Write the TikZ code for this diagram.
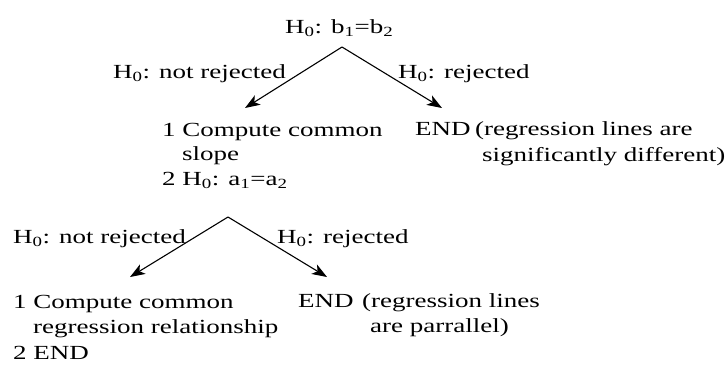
\documentclass[tikz,border=0pt]{standalone}
\usepackage{fontspec}
\setmainfont{Liberation Serif}[FakeStretch=1.35]
\usetikzlibrary{arrows.meta}
\newcommand{\Hz}{H\textsubscript{0}}
\begin{document}
\begin{tikzpicture}[x=1pt,y=-1pt,
  txt/.style={anchor=base west,inner sep=0pt,font=\fontsize{20}{24}\selectfont},
  branch/.style={line width=1.1pt,-{Stealth[length=15pt,width=11pt,inset=4pt]}}]
\useasboundingbox (0,0) rectangle (727,367);

% first test: equal slopes
\node[txt] (root) at (285,33) {\Hz: b\textsubscript{1}=b\textsubscript{2}};
\node[txt] (l1) at (113,78) {\Hz: not rejected};
\node[txt] (r1) at (398,78) {\Hz: rejected};
\coordinate (apex1) at (342,47);
\coordinate (tipL1) at (245,108);
\coordinate (tipR1) at (442,108);
\draw[branch] (apex1) -- (tipL1);
\draw[branch] (apex1) -- (tipR1);

\node[txt] (c1a) at (162,136) {1 Compute common};
\node[txt] (c1b) at (182,160) {slope};
\node[txt] (c1c) at (162,185) {2 \Hz: a\textsubscript{1}=a\textsubscript{2}};
\node[txt] (e1) at (415,135) {END};
\node[txt] (e1a) at (475,135) {(regression lines are};
\node[txt] (e1b) at (482,161) {significantly different)};

% second test: equal intercepts
\node[txt] (l2) at (13,243) {\Hz: not rejected};
\node[txt] (r2) at (277,243) {\Hz: rejected};
\coordinate (apex2) at (228,217);
\coordinate (tipL2) at (130,277);
\coordinate (tipR2) at (327,277);
\draw[branch] (apex2) -- (tipL2);
\draw[branch] (apex2) -- (tipR2);

\node[txt] (c2a) at (13,308) {1 Compute common};
\node[txt] (c2b) at (33,333) {regression relationship};
\node[txt] (c2c) at (13,359) {2 END};
\node[txt] (e2) at (298,307) {END};
\node[txt] (e2a) at (362,307) {(regression lines};
\node[txt] (e2b) at (370,332) {are parrallel)};
\end{tikzpicture}
\end{document}
